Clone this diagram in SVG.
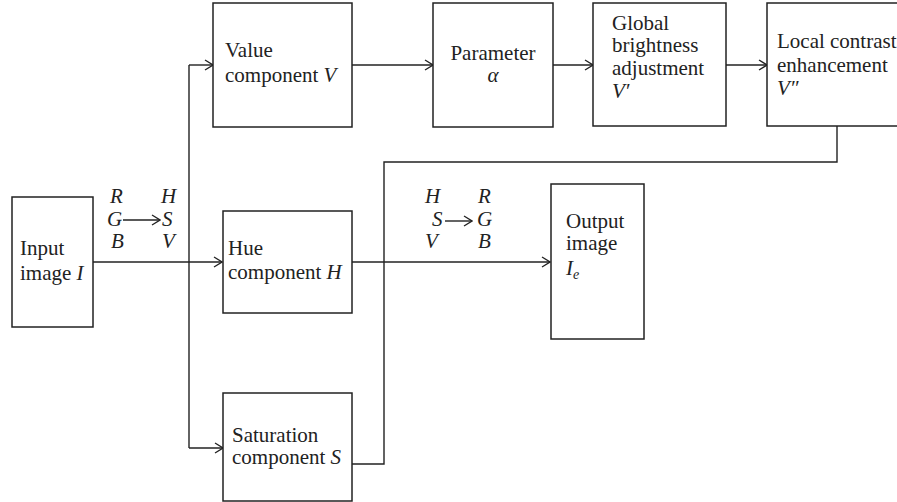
<svg xmlns="http://www.w3.org/2000/svg" width="897" height="502" viewBox="0 0 897 502">
<style>
.box{fill:#fff;stroke:#222;stroke-width:1.5}
.t{font-family:"Liberation Serif","Times New Roman",serif;font-size:21px;fill:#222}
.i{font-style:italic}
.c{fill:none;stroke:#222;stroke-width:1.4}
</style>
<defs>
<marker id="ah" viewBox="0 0 10 12" refX="9" refY="6" markerWidth="10" markerHeight="12" markerUnits="userSpaceOnUse" orient="auto">
<path d="M1,1 L9,6 L1,11" fill="none" stroke="#222" stroke-width="1.3"/>
</marker>
</defs>
<rect width="897" height="502" fill="#fff"/>
<g id="connectors">
<path class="c" d="M93,262 H222" marker-end="url(#ah)"/>
<path class="c" d="M189,65 V448"/>
<path class="c" d="M189,65 H213" marker-end="url(#ah)"/>
<path class="c" d="M189,448 H223" marker-end="url(#ah)"/>
<path class="c" d="M352,65 H433" marker-end="url(#ah)"/>
<path class="c" d="M553,65 H593" marker-end="url(#ah)"/>
<path class="c" d="M726,65 H767" marker-end="url(#ah)"/>
<path class="c" d="M837,126 V162 H384 V464 H352"/>
<path class="c" d="M352,262 H550" marker-end="url(#ah)"/>
</g>
<g id="rgb2hsv">
<text class="t i" x="110" y="203">R</text>
<text class="t i" x="107" y="226">G</text>
<text class="t i" x="111" y="248">B</text>
<path class="c" d="M123,220 H160" marker-end="url(#ah)"/>
<text class="t i" x="161" y="203">H</text>
<text class="t i" x="162" y="226">S</text>
<text class="t i" x="162" y="248">V</text>
</g>
<g id="hsv2rgb">
<text class="t i" x="425" y="203">H</text>
<text class="t i" x="432" y="226">S</text>
<text class="t i" x="425" y="248">V</text>
<path class="c" d="M445,221 H472" marker-end="url(#ah)"/>
<text class="t i" x="478" y="203">R</text>
<text class="t i" x="477" y="226">G</text>
<text class="t i" x="478" y="248">B</text>
</g>
<g id="input">
<rect class="box" x="12" y="197" width="81" height="130"/>
<text class="t" x="20" y="255">Input</text>
<text class="t" x="20" y="280">image <tspan class="i">I</tspan></text>
</g>
<g id="value">
<rect class="box" x="213" y="3" width="139" height="124"/>
<text class="t" x="225" y="57">Value</text>
<text class="t" x="225" y="82">component <tspan class="i">V</tspan></text>
</g>
<g id="parameter">
<rect class="box" x="433" y="3" width="120" height="124"/>
<text class="t" x="493" y="60" text-anchor="middle">Parameter</text>
<text class="t i" x="493" y="82" text-anchor="middle">α</text>
</g>
<g id="global">
<rect class="box" x="593" y="3" width="133" height="123"/>
<text class="t" x="612" y="30">Global</text>
<text class="t" x="612" y="52">brightness</text>
<text class="t" x="612" y="75">adjustment</text>
<text class="t i" x="612" y="98">V′</text>
</g>
<g id="local">
<rect class="box" x="767" y="3" width="140" height="123"/>
<text class="t" x="777" y="48">Local contrast</text>
<text class="t" x="777" y="72">enhancement</text>
<text class="t i" x="777" y="95">V″</text>
</g>
<g id="hue">
<rect class="box" x="223" y="211" width="129" height="102"/>
<text class="t" x="228" y="255">Hue</text>
<text class="t" x="228" y="279">component <tspan class="i">H</tspan></text>
</g>
<g id="saturation">
<rect class="box" x="223" y="393" width="129" height="108"/>
<text class="t" x="232" y="442">Saturation</text>
<text class="t" x="232" y="464">component <tspan class="i">S</tspan></text>
</g>
<g id="output">
<rect class="box" x="551" y="184" width="93" height="155"/>
<text class="t" x="566" y="228">Output</text>
<text class="t" x="566" y="250">image</text>
<text class="t i" x="566" y="275">I<tspan font-size="14" dy="4">e</tspan></text>
</g>
</svg>
